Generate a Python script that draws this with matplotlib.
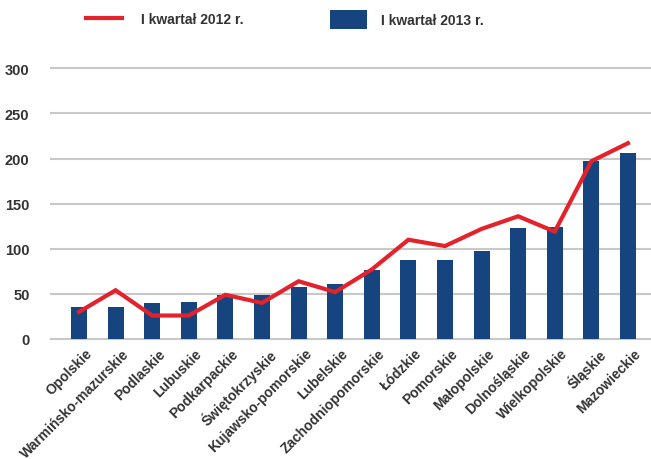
import numpy as np
import matplotlib.pyplot as plt
import matplotlib.transforms as mtransforms
from matplotlib.lines import Line2D
from matplotlib.patches import Patch

plt.rcParams['font.family'] = ['Liberation Sans', 'DejaVu Sans']

# data
regions = ['Opolskie', 'Warmińsko-mazurskie', 'Podlaskie', 'Lubuskie', 'Podkarpackie',
           'Świętokrzyskie', 'Kujawsko-pomorskie', 'Lubelskie', 'Zachodniopomorskie',
           'Łódzkie', 'Pomorskie', 'Małopolskie', 'Dolnośląskie', 'Wielkopolskie',
           'Śląskie', 'Mazowieckie']
q1_2013 = [35, 36, 40, 41, 49, 49, 58, 61, 77, 87, 87, 97, 123, 124, 197, 206]
q1_2012 = [30, 54, 26, 26, 49, 40, 64, 52, 77, 110, 103, 122, 136, 119, 197, 217]
yticks = [0, 50, 100, 150, 200, 250, 300]

blue = '#15447e'
red = '#e3222b'
text_col = '#333333'

fig = plt.figure(figsize=(6.51, 4.60), dpi=100)
ax = fig.add_axes([51 / 651, 1 - 340 / 460, 600 / 651, (340 - 69.3) / 460])

x = np.arange(len(regions))
ax.bar(x, q1_2013, width=0.44, color=blue, zorder=2)
ax.plot(x, q1_2012, color=red, linewidth=3, zorder=3, solid_joinstyle='miter')

ax.set_xlim(-0.765, 15.63)
ax.set_ylim(0, 300)
ax.set_yticks(yticks)
ax.yaxis.grid(True, color='#c8c8c8', linewidth=1.5, zorder=0)
for gl in ax.get_ygridlines():
    gl.set_clip_on(False)
ax.set_axisbelow(True)
for s in ax.spines.values():
    s.set_visible(False)
ax.tick_params(axis='y', length=0, pad=15.5, labelsize=10.5, labelcolor=text_col)
ax.tick_params(axis='x', length=0, pad=5, labelsize=10, labelcolor=text_col)
for lab in ax.get_yticklabels():
    lab.set_fontweight('bold')

ax.set_xticks(x)
ax.set_xticklabels(regions, rotation=45, ha='right', va='top', rotation_mode='anchor',
                   fontweight='bold')
shift = mtransforms.ScaledTranslation(6 / 100, 0, fig.dpi_scale_trans)
for lab in ax.get_xticklabels():
    lab.set_transform(lab.get_transform() + shift)

# legend: two separate entries placed like the reference
leg_font = {'weight': 'bold', 'size': 10}
leg1 = fig.legend([Line2D([0], [0], color=red, linewidth=3)], ['I kwartał 2012 r.'],
                  loc='center left', bbox_to_anchor=(86 / 651, 1 - 20 / 460),
                  frameon=False, borderpad=0, borderaxespad=0,
                  handlelength=2.6, handletextpad=1.37, prop=leg_font)
leg2 = fig.legend([Patch(facecolor=blue, edgecolor='none')], ['I kwartał 2013 r.'],
                  loc='center left', bbox_to_anchor=(330 / 651, 1 - 20.5 / 460),
                  frameon=False, borderpad=0, borderaxespad=0,
                  handlelength=2.65, handleheight=1.65, handletextpad=1.0, prop=leg_font)
for leg in (leg1, leg2):
    for t in leg.get_texts():
        t.set_color(text_col)

fig.savefig('out.png', dpi=100)
